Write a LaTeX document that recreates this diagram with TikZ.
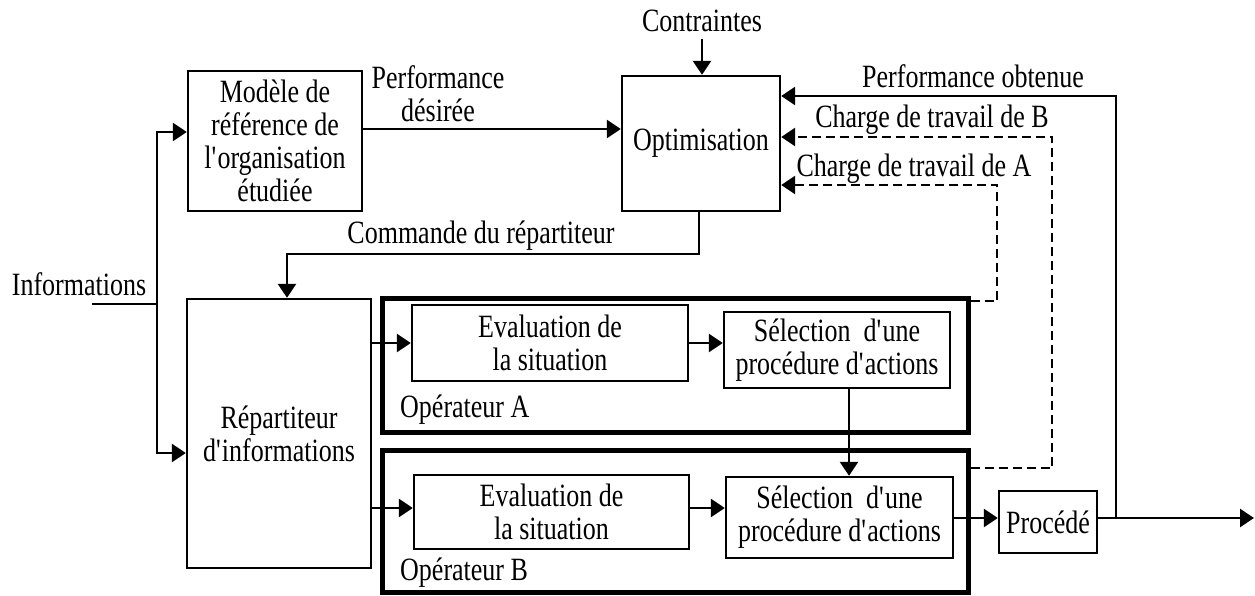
\documentclass[tikz,border=0pt]{standalone}
\usepackage{fontspec}
\setmainfont{Liberation Serif}[FakeStretch=0.8]
\usetikzlibrary{arrows.meta,calc}
\newcommand\fs{\fontsize{32.5}{33}\selectfont}
\newcommand\q{\textquotesingle}
\begin{document}
\begin{tikzpicture}[x=1pt,y=-1pt,
  box/.style={draw, line width=2.4pt, align=center, inner sep=0pt, font=\fs},
  opbox/.style={draw, line width=5pt, inner sep=0pt},
  ln/.style={line width=2.6pt},
  arr/.style={line width=2.6pt, -{Triangle[length=14pt,width=18pt]}},
  dsh/.style={line width=2.6pt, dash pattern=on 9pt off 5pt, -{Triangle[length=14pt,width=18pt]}},
  lbl/.style={inner sep=0pt, font=\fs}]
\useasboundingbox (0,0) rectangle (1255,596);

% operator frames
\node[opbox, minimum width=586pt, minimum height=134pt] (opA) at (675,365) {};
\node[opbox, minimum width=586pt, minimum height=142pt] (opB) at (675,521) {};
\node[lbl, anchor=base west] (opAl) at (400,417) {Opérateur A};
\node[lbl, anchor=base west] (opBl) at (400,580) {Opérateur B};

% boxes
\node[box, minimum width=174pt, minimum height=140pt] (mod) at (275,141) {Modèle de\\référence de\\l\q organisation\\étudiée};
\node[box, minimum width=158pt, minimum height=135pt] (opt) at (701,143.5) {Optimisation};
\node[box, minimum width=184pt, minimum height=269pt] (rep) at (279,433.5) {Répartiteur\\d\q informations};
\node[box, minimum width=276pt, minimum height=76pt] (evA) at (550,343) {Evaluation de\\la situation};
\node[box, minimum width=275pt, minimum height=74pt] (evB) at (551.5,512) {Evaluation de\\la situation};
\node[box, minimum width=226pt, minimum height=76pt] (selA) at (837,350) {Sélection\ \ d\q une\\procédure d\q actions};
\node[box, minimum width=227pt, minimum height=81pt] (selB) at (839.5,517.5) {Sélection\ \ d\q une\\procédure d\q actions};
\node[box, minimum width=98pt, minimum height=62pt] (proc) at (1048,522) {Procédé};

% labels
\node[lbl, anchor=base] (cont) at (702,32) {Contraintes};
\node[lbl, anchor=base] (pobt) at (973,88) {Performance obtenue};
\node[lbl, anchor=base] (chB) at (932,128) {Charge de travail de B};
\node[lbl, anchor=base] (chA) at (914,177) {Charge de travail de A};
\node[lbl, anchor=base] (cmd) at (481,243) {Commande du répartiteur};
\node[lbl, anchor=base, align=center] (pdes) at (438,122) {Performance\\désirée};
\node[lbl, anchor=base] (inf) at (79,295) {Informations};

% informations input
\coordinate (i0) at (92,304);
\coordinate (br) at (157,304);
\draw[ln] (i0) -- (br);
\draw[arr] (br) |- (mod.west |- 0,132);
\draw[arr] (br) |- (rep.west |- 0,453);

% contraintes
\draw[arr] (cont.south |- 0,39) -- (opt.north -| 702,0);

% performance desiree
\draw[arr] (mod.east |- 0,129) -- (opt.west |- 0,129);

% commande
\coordinate (c1) at (699,254);
\draw[arr] (opt.south -| c1) -- (c1) -| (rep.north -| 287,0);

% repartiteur outputs
\draw[arr] (rep.east |- evA.west) -- (evA.west);
\draw[arr] (rep.east |- 0,508) -- (evB.west |- 0,508);

% evaluation -> selection
\draw[arr] (evA.east |- 0,343) -- (selA.west |- 0,343);
\draw[arr] (evB.east |- 0,508) -- (selB.west |- 0,508);

% selection A -> selection B
\draw[arr] (selA.south -| 849,0) -- (selB.north -| 849,0);

% selection B -> procede
\draw[arr] (selB.east |- 0,518) -- (proc.west |- 0,518);

% procede output
\coordinate (pout) at (1254,518);
\coordinate (j) at (1116,518);
\draw[arr] (proc.east |- 0,518) -- (pout);
\draw[arr] (j) |- (opt.east |- 0,96);

% charge de travail
\coordinate (ca) at (997,301);
\coordinate (cb) at (1052,468);
\draw[dsh] (opA.east |- ca) -- (ca) |- (opt.east |- 0,185);
\draw[dsh] (opB.east |- cb) -- (cb) |- (opt.east |- 0,137);
\end{tikzpicture}
\end{document}
